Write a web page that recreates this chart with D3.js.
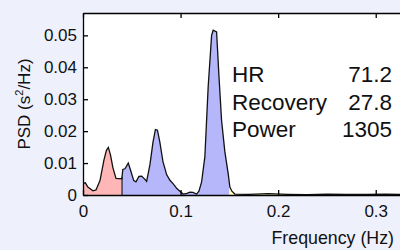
<!DOCTYPE html>
<html>
<head>
<meta charset="utf-8">
<script src="https://cdn.jsdelivr.net/npm/d3@7"></script>
<style>
  html, body { margin: 0; padding: 0; background: #eef0fb; }
  svg { display: block; font-family: "Liberation Sans", Arial, Helvetica, sans-serif; }
  .axis text { font-size: 17px; fill: #111; }
  .axis path, .axis line { stroke: #000; stroke-width: 1.3; }
</style>
</head>
<body>
<div id="chart"></div>
<script>
var width = 400, height = 250;
var margin = { top: 13, left: 83, bottom: 55 };

// spectrum (Hz, s^2/Hz)
var freq = [0, 0.0024, 0.005, 0.0102, 0.0133, 0.0174, 0.0215, 0.024, 0.026, 0.0282, 0.0307, 0.0338,
    0.0398, 0.0408, 0.043, 0.0464, 0.049, 0.052, 0.0543, 0.0573, 0.0601, 0.0625, 0.0652, 0.0686,
    0.0717, 0.0742, 0.0763, 0.0788, 0.0819, 0.0857, 0.0891, 0.0925, 0.0962, 0.0993, 0.1027, 0.1065,
    0.1096, 0.1126, 0.1164, 0.1188, 0.1215, 0.1249, 0.1283, 0.1318, 0.1334, 0.1369, 0.1392, 0.142,
    0.1454, 0.1488, 0.1505, 0.1526, 0.1556, 0.17, 0.19, 0.21, 0.23, 0.25, 0.27, 0.29, 0.31, 0.33];
var psd = [0.0036, 0.0038, 0.0025, 0.0013, 0.0016, 0.0045, 0.011, 0.014, 0.0149, 0.0125, 0.0085, 0.0052,
    0.0051, 0.008, 0.0082, 0.010, 0.0075, 0.0045, 0.0041, 0.0058, 0.0059, 0.0052, 0.0043, 0.0095,
    0.0165, 0.0205, 0.0203, 0.0165, 0.0105, 0.0064, 0.0046, 0.0035, 0.002, 0.0012, 0.0003, 0.0005,
    0.0009, 0.0008, 0.0003, 0.0012, 0.004, 0.012, 0.034, 0.050, 0.0516, 0.0511, 0.038, 0.0234,
    0.0135, 0.0067, 0.0025, 0.0012, 0.0003, 0.0002, 0.0004, 0.0002, 0.0001, 0.0003, 0.0002, 0.0002, 0.0003, 0.0001];

var bandNames = ["VLF", "LF", "HF"];
var bandEdges = [[0, 0.04], [0.04, 0.15], [0.15, 0.4]];
var bandColors = ["#ffb6b6", "#b6b6fa", "#ffffb4"];

var xTicks = [0, 0.1, 0.2, 0.3];
var yTicks = [0, 0.01, 0.02, 0.03, 0.04, 0.05];

var statNames = ["HR", "Recovery", "Power"];
var statValues = ["71.2", "27.8", "1305"];

var data = freq.map((f, i) => { return { f: f, v: psd[i] }; });

var svg = d3.select("#chart")
    .append("svg")
    .attr("width", width)
    .attr("height", height);

var x = d3.scaleLinear()
    .domain([0, 0.33])
    .range([margin.left, margin.left + 322]);
var y = d3.scaleLinear()
    .domain([0, 0.057])
    .range([height - margin.bottom, margin.top]);

var plotW = 330, plotH = y(0) - margin.top;

svg.append("clipPath").attr("id", "clip")
    .append("rect")
    .attr("x", margin.left).attr("y", margin.top)
    .attr("width", plotW).attr("height", plotH);

svg.append("rect")
    .attr("x", margin.left).attr("y", margin.top)
    .attr("width", plotW).attr("height", plotH)
    .attr("fill", "#fff");

function valueAt(f) {
    var i = d3.bisector(d => d.f).right(data, f);
    if (i <= 0) return data[0].v;
    if (i >= data.length) return data[data.length - 1].v;
    var a = data[i - 1], b = data[i];
    return a.v + (b.v - a.v) * (f - a.f) / (b.f - a.f);
}

var area = d3.area()
    .x(d => x(d.f))
    .y0(y(0))
    .y1(d => y(d.v));

var g = svg.append("g").attr("clip-path", "url(#clip)");

bandEdges.forEach((e, i) => {
    var lo = e[0], hi = Math.min(e[1], freq[freq.length - 1]);
    var pts = [{ f: lo, v: valueAt(lo) }]
        .concat(data.filter(d => d.f > lo && d.f < hi))
        .concat([{ f: hi, v: valueAt(hi) }]);
    g.append("path")
        .attr("class", "band " + bandNames[i])
        .attr("d", area(pts))
        .attr("fill", bandColors[i]);
});

// edge between VLF and LF patches
g.append("line")
    .attr("x1", x(0.04)).attr("x2", x(0.04))
    .attr("y1", y(0)).attr("y2", y(valueAt(0.04)))
    .attr("stroke", "#222").attr("stroke-width", 1.2);

g.append("path")
    .datum(data)
    .attr("d", d3.line().x(d => x(d.f)).y(d => y(d.v)))
    .attr("fill", "none")
    .attr("stroke", "#111")
    .attr("stroke-width", 1.3);

svg.append("g")
    .attr("class", "x axis")
    .attr("transform", "translate(0," + y(0) + ")")
    .call(d3.axisBottom(x).tickValues(xTicks).tickFormat(d3.format("")).tickSizeInner(-5).tickSizeOuter(0).tickPadding(10));

svg.append("g")
    .attr("class", "x axis")
    .attr("transform", "translate(0," + margin.top + ")")
    .call(d3.axisTop(x).tickValues(xTicks).tickFormat("").tickSizeInner(-5).tickSizeOuter(0));

svg.append("g")
    .attr("class", "y axis")
    .attr("transform", "translate(" + margin.left + ",0)")
    .call(d3.axisLeft(y).tickValues(yTicks).tickFormat(d3.format("")).tickSizeInner(-5).tickSizeOuter(0).tickPadding(6));

svg.selectAll(".axis .domain").attr("stroke", "#000");

svg.append("text")
    .attr("x", 394).attr("y", 244)
    .attr("text-anchor", "end")
    .style("font-size", "17.8px")
    .attr("fill", "#111")
    .text("Frequency (Hz)");

var yl = svg.append("text")
    .attr("transform", "translate(30,104) rotate(-90)")
    .attr("text-anchor", "middle")
    .style("font-size", "17px")
    .attr("fill", "#111");
yl.append("tspan").text("PSD (s");
yl.append("tspan").attr("dy", -7).style("font-size", "11px").text("2");
yl.append("tspan").attr("dy", 7).text("/Hz)");

var stats = svg.append("g").style("font-size", "22.5px").attr("fill", "#111");
statNames.forEach((s, i) => {
    stats.append("text")
        .attr("x", 232).attr("y", 82 + i * 27.5)
        .text(s);
    stats.append("text")
        .attr("x", 392).attr("y", 82 + i * 27.5)
        .attr("text-anchor", "end")
        .text(statValues[i]);
});
</script>
</body>
</html>
